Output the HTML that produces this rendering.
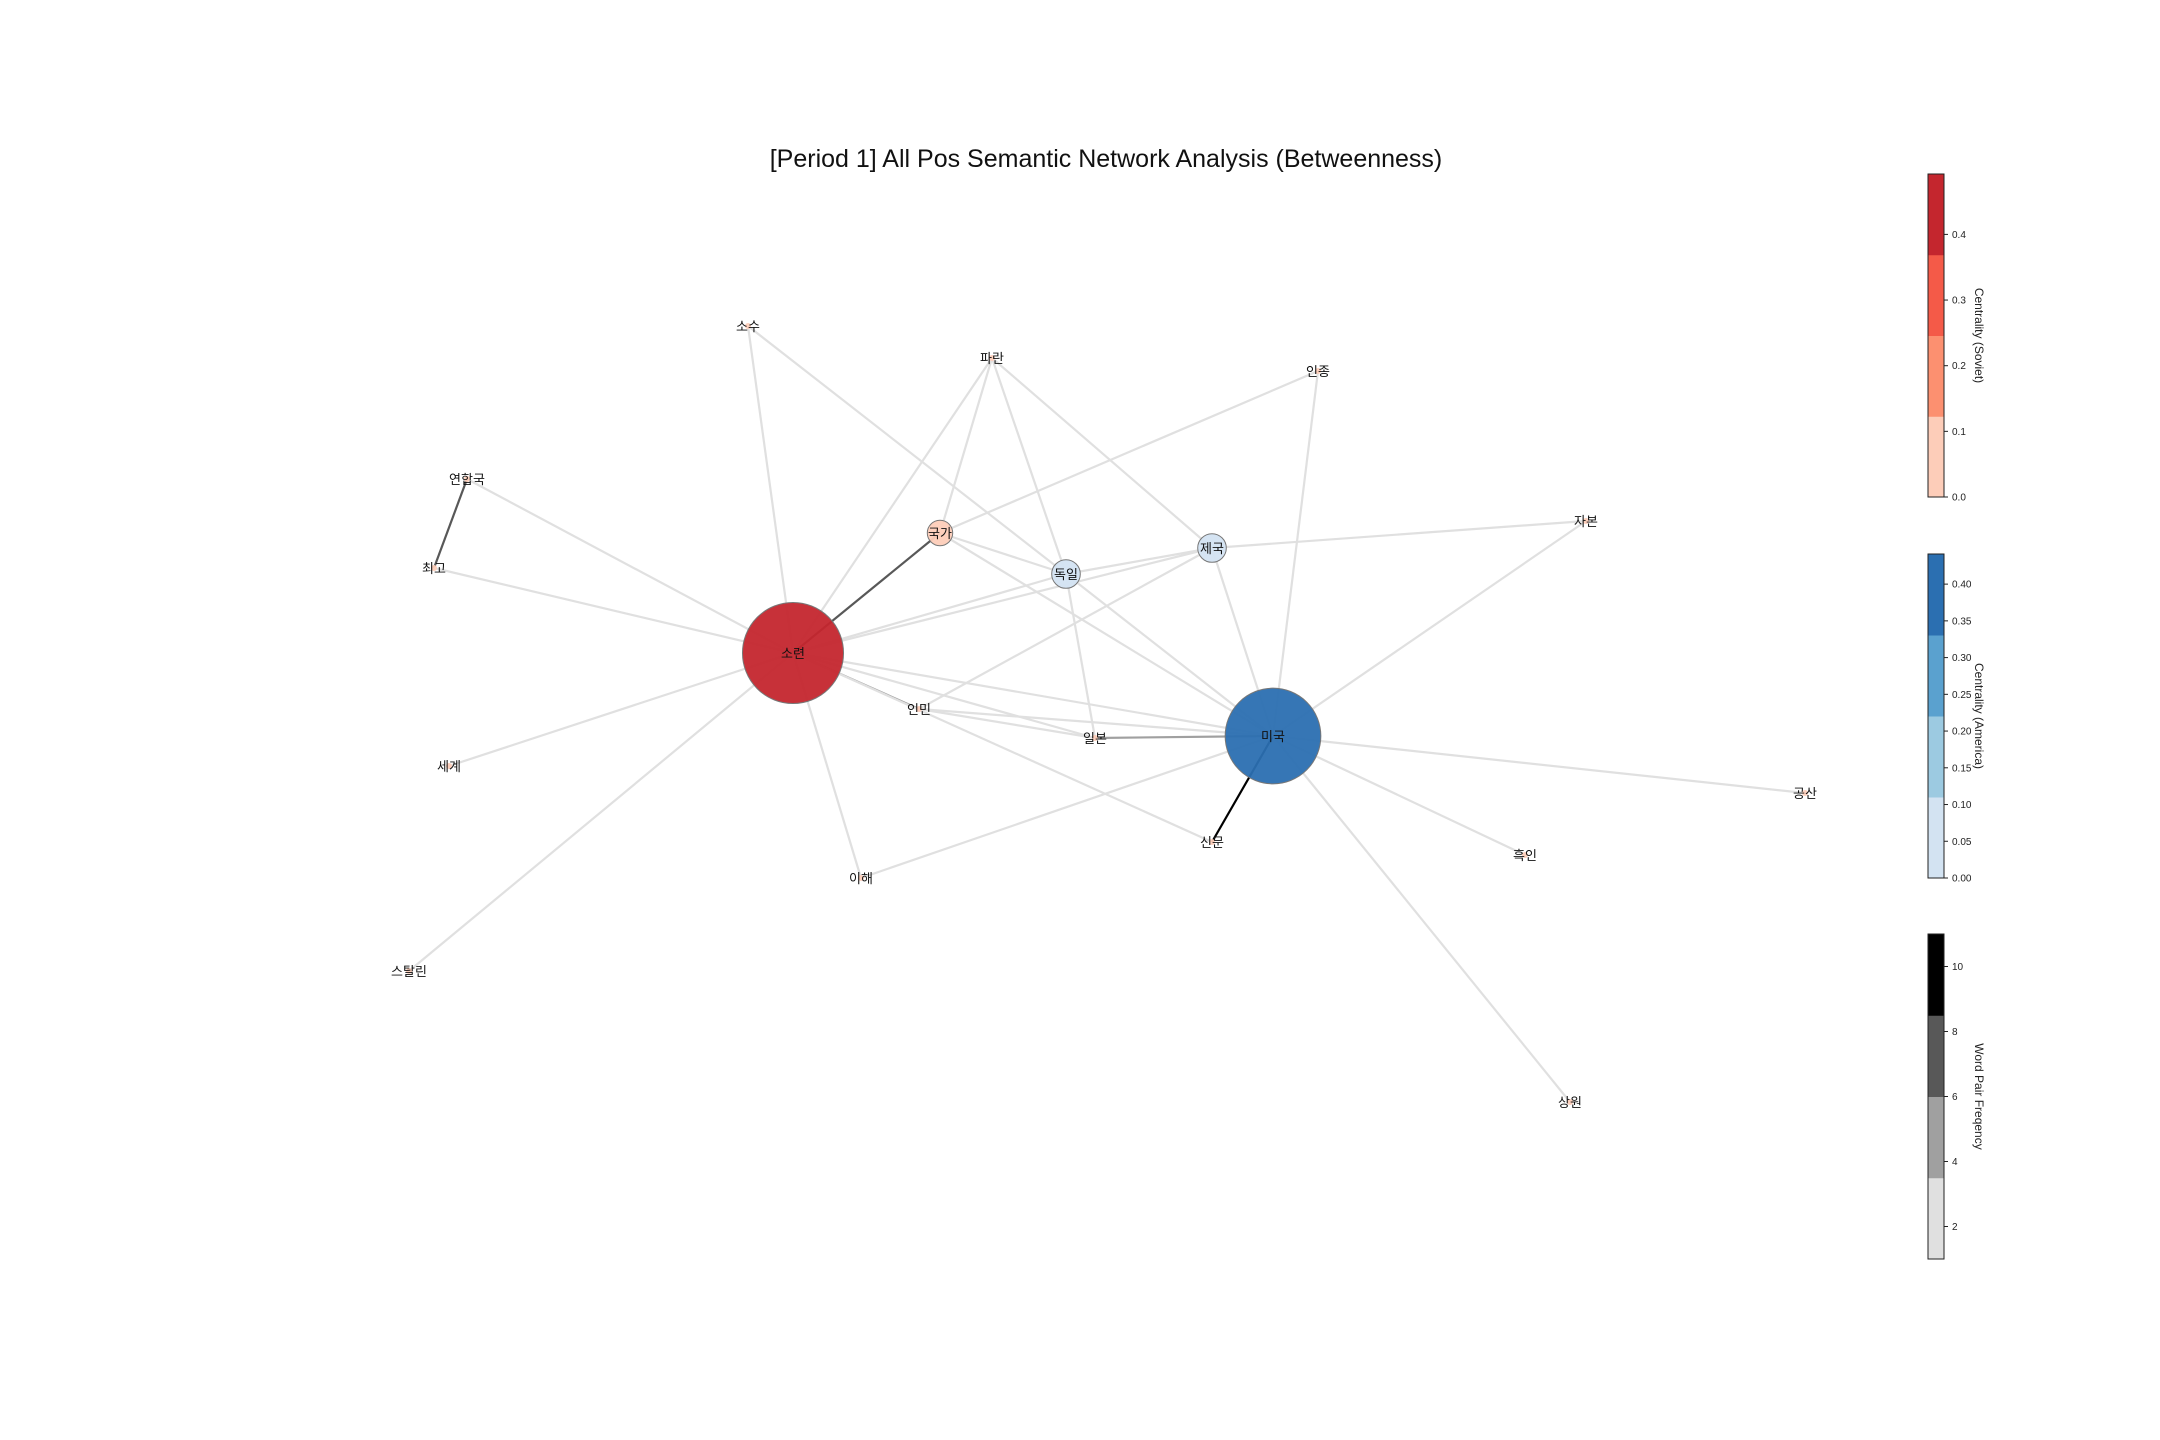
<!DOCTYPE html>
<html><head><meta charset="utf-8"><style>
html,body{margin:0;padding:0;background:#fff}
svg{display:block;font-family:"Liberation Sans","Noto Sans CJK KR",sans-serif}
</style></head><body>
<svg id="c" width="2160" height="1440" viewBox="0 0 2160 1440">
<rect width="2160" height="1440" fill="#fff"/>
<text x="1106" y="167" text-anchor="middle" font-size="25" fill="#111">[Period 1] All Pos Semantic Network Analysis (Betweenness)</text>
<g id="edges"></g><g id="nodes"></g><g id="labels"></g><g id="bars"></g>
</svg>
<script>
const nodeNames=["소련","미국","국가","독일","제국","소수","파란","인종","연합국","최고","자본","세계","인민","일본","신문","이해","공산","흑인","스탈린","상원"];
const nodeX=[793,1273,940,1066,1212,748,992,1318,467,434,1586,449,919,1095,1212,861,1805,1525,409,1570];
const nodeY=[653,736,533,574,548,326,358,371,479,568,521,766,709,738,842,878,793,855,971,1102];
const sovietCent=[0.49,0,0.1,0,0,0,0,0,0,0,0,0,0,0,0,0,0,0,0,0];
const americaCent=[0,0.44,0,0.05,0.05,0,0,0,0,0,0,0,0,0,0,0,0,0,0,0];
const edgeFrom=["소수","소수","파란","파란","파란","파란","인종","인종","연합국","연합국","최고","국가","국가","국가","독일","독일","독일","독일","제국","제국","제국","제국","자본","소련","소련","소련","소련","소련","소련","소련","인민","인민","일본","신문","이해","미국","미국","미국"];
const edgeTo=["소련","독일","소련","국가","독일","제국","국가","미국","최고","소련","소련","소련","독일","미국","소련","제국","일본","미국","소련","자본","미국","인민","미국","세계","스탈린","이해","인민","미국","신문","일본","미국","일본","미국","미국","미국","공산","흑인","상원"];
const edgeFreq=[1,1,1,1,1,1,1,1,7,1,1,7,1,1,1,1,1,1,1,1,1,1,1,1,1,1,4,1,1,1,1,1,5,10,1,1,1,1];
const sovTicks=[0,0.1,0.2,0.3,0.4];
const amTicks=[0,0.05,0.1,0.15,0.2,0.25,0.3,0.35,0.4];
const frTicks=[2,4,6,8,10];
const reds=["#fdcdb9","#fc9070","#f45a48","#c4262e"];
const blues=["#d3e3f2","#9ccae1","#5aa1cf","#2b6fb1"];
const greys=["#e0e0e0","#a0a0a0","#585858","#000000"];
const NS="http://www.w3.org/2000/svg";
function mk(t,a,p){const e=document.createElementNS(NS,t);for(const k in a)e.setAttribute(k,a[k]);p.appendChild(e);return e;}
const sovMax=0.492,amMax=0.441,frMin=1,frMax=11;
function band(v,max,cols){let i=Math.floor(v/max*4);return cols[Math.max(0,Math.min(3,i))];}
const E=document.getElementById('edges');
edgeFrom.forEach((f,i)=>{const a=nodeNames.indexOf(f),b=nodeNames.indexOf(edgeTo[i]);
 const col=band(edgeFreq[i]-frMin,frMax-frMin,greys);
 const l=mk('line',{x1:nodeX[a],y1:nodeY[a],x2:nodeX[b],y2:nodeY[b],stroke:col,'stroke-width':2.2},E);
 
 });
const N=document.getElementById('nodes'),L=document.getElementById('labels');
nodeNames.forEach((n,i)=>{
 let r=3,col="#fdcdb9";
 if(sovietCent[i]>0){r=3+sovietCent[i]*97;col=band(sovietCent[i],sovMax,reds);}
 else if(americaCent[i]>0){r=10+americaCent[i]*86;col=band(americaCent[i],amMax,blues);}
 const c=mk('circle',{cx:nodeX[i],cy:nodeY[i],r:r,fill:col,'fill-opacity':0.95,stroke:r>4?"#777":"none",'stroke-width':1},N);
 
 
 const t=mk('text',{x:nodeX[i],y:nodeY[i]+5,'text-anchor':'middle','font-size':13,fill:'#111'},L);t.textContent=n;
 
 
});
const B=document.getElementById('bars');
function cbar(y0,y1,min,max,cols,ticks,title,dec,nm){
 const h=y1-y0,x=1928,w=16;
 cols.forEach((c,k)=>{mk('rect',{x:x,y:y1-h*(k+1)/4,width:w,height:h/4+0.5,fill:c},B);});
 const fr=mk('rect',{x:x,y:y0,width:w,height:h,fill:'none',stroke:'#222','stroke-width':1},B);
 
 
 ticks.forEach(t=>{const y=y1-(t-min)/(max-min)*h;
  mk('line',{x1:x+w,y1:y,x2:x+w+4,y2:y,stroke:'#222'},B);
  const tx=mk('text',{x:x+w+8,y:y+3.5,'font-size':10,fill:'#222'},B);tx.textContent=t.toFixed(dec);});
 const tt=mk('text',{x:1975,y:(y0+y1)/2,'font-size':12,fill:'#222','text-anchor':'middle',transform:`rotate(90 1975 ${(y0+y1)/2})`},B);tt.textContent=title;
 
 
}
cbar(174,497,0,sovMax,reds,sovTicks,"Centrality (Soviet)",1,'soviet-colorbar');
cbar(554,878,0,amMax,blues,amTicks,"Centrality (America)",2,'america-colorbar');
cbar(934,1259,frMin,frMax,greys,frTicks,"Word Pair Freqency",0,'frequency-colorbar');
</script>
</body></html>
